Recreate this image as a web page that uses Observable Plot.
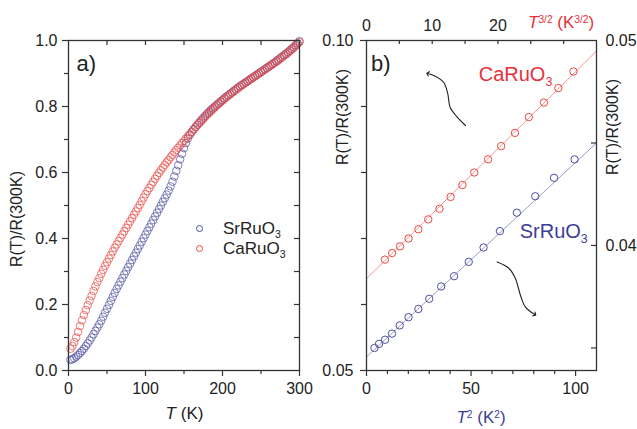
<!DOCTYPE html>
<html><head><meta charset="utf-8">
<script src="https://cdn.jsdelivr.net/npm/d3@7"></script>
<script src="https://cdn.jsdelivr.net/npm/@observablehq/plot@0.6"></script>
<style>
body{margin:0;background:#fff;}
#wrap{position:relative;width:637px;height:429px;overflow:hidden;font-family:"Liberation Sans",Arial,sans-serif;color:#222;background:#fff;}
#wrap svg{position:absolute;left:0;top:0;}
.lbl{position:absolute;white-space:nowrap;line-height:1;}
.sub{position:relative;top:0.38em;font-size:0.62em;line-height:0;}
.sup{position:relative;top:-0.5em;font-size:0.6em;line-height:0;}
.lc{position:absolute;width:5px;height:5px;border:1px solid;border-radius:50%;}
</style></head><body><div id="wrap"></div>
<script>
// ---------- Panel a: R(T)/R(300K) vs T ----------
const tempK = [
  2.5,5,7.5,10,12.5,15,17.5,20,22.5,25,
  27.5,30,32.5,35,37.5,40,42.5,45,47.5,50,
  52.5,55,57.5,60,62.5,65,67.5,70,72.5,75,
  77.5,80,82.5,85,87.5,90,92.5,95,97.5,100,
  102.5,105,107.5,110,112.5,115,117.5,120,122.5,125,
  127.5,130,132.5,135,137.5,140,142.5,145,147.5,150,
  152.5,155,157.5,160,162.5,165,167.5,170,172.5,175,
  177.5,180,182.5,185,187.5,190,192.5,195,197.5,200,
  202.5,205,207.5,210,212.5,215,217.5,220,222.5,225,
  227.5,230,232.5,235,237.5,240,242.5,245,247.5,250,
  252.5,255,257.5,260,262.5,265,267.5,270,272.5,275,
  277.5,280,282.5,285,287.5,290,292.5,295,297.5,300];
const srRatio = [
  0.032,0.034,0.037,0.042,0.047,0.053,0.059,0.066,0.074,0.082,
  0.091,0.100,0.110,0.120,0.130,0.140,0.151,0.163,0.175,0.187,
  0.199,0.211,0.223,0.235,0.247,0.258,0.269,0.280,0.291,0.302,
  0.313,0.324,0.335,0.346,0.357,0.368,0.379,0.390,0.401,0.412,
  0.423,0.434,0.445,0.456,0.467,0.478,0.489,0.500,0.511,0.522,
  0.533,0.545,0.558,0.572,0.588,0.605,0.622,0.640,0.657,0.674,
  0.689,0.703,0.714,0.723,0.731,0.738,0.745,0.752,0.759,0.766,
  0.772,0.778,0.784,0.790,0.795,0.800,0.805,0.810,0.815,0.820,
  0.825,0.830,0.834,0.839,0.843,0.848,0.852,0.857,0.861,0.865,
  0.869,0.873,0.877,0.881,0.885,0.889,0.893,0.897,0.901,0.905,
  0.909,0.913,0.917,0.921,0.925,0.929,0.933,0.938,0.942,0.947,
  0.951,0.956,0.960,0.965,0.970,0.975,0.980,0.986,0.992,0.998];
const caRatio = [
  0.066,0.074,0.086,0.100,0.117,0.135,0.152,0.168,0.183,0.198,
  0.212,0.226,0.241,0.255,0.268,0.280,0.293,0.305,0.317,0.328,
  0.339,0.350,0.361,0.372,0.382,0.392,0.402,0.412,0.422,0.432,
  0.442,0.452,0.462,0.472,0.482,0.492,0.502,0.513,0.524,0.534,
  0.544,0.553,0.563,0.572,0.581,0.590,0.599,0.607,0.615,0.623,
  0.631,0.638,0.646,0.653,0.661,0.668,0.675,0.682,0.689,0.696,
  0.703,0.710,0.716,0.723,0.730,0.737,0.744,0.750,0.756,0.762,
  0.769,0.775,0.780,0.786,0.792,0.797,0.803,0.808,0.813,0.818,
  0.823,0.828,0.833,0.837,0.842,0.846,0.851,0.855,0.860,0.864,
  0.868,0.872,0.876,0.880,0.884,0.888,0.892,0.896,0.900,0.904,
  0.908,0.912,0.916,0.920,0.924,0.928,0.932,0.936,0.940,0.945,
  0.950,0.954,0.958,0.963,0.968,0.973,0.978,0.984,0.990,0.995];
const aXTicks = [0,100,200,300];
const aXMinor = [50,150,250];
const aYTicks = [0,0.2,0.4,0.6,0.8,1.0];
const aYMinor = [0.1,0.3,0.5,0.7,0.9];

// ---------- Panel b: low-T fits ----------
// CaRuO3 vs T^{3/2} (top axis), left axis
const caT32 = [2.8,3.9,5.1,6.4,7.9,9.4,11.1,12.8,14.6,16.4,18.5,20.5,22.6,24.7,27.0,29.2,31.5];
const caLow = [0.0668,0.0678,0.0688,0.0700,0.0714,0.0729,0.0745,0.0763,0.0781,0.0800,0.0820,0.0840,0.0860,0.0884,0.0906,0.0928,0.0953];
const caFitX = [0,35];
const caFitY = [0.0639,0.0984];
// SrRuO3 vs T^2 (bottom axis), right axis
const srT2 = [3.8,6.0,8.9,12.2,15.9,20.1,24.8,30.0,35.7,41.9,48.9,56.0,63.8,71.9,80.7,89.7,99.5];
const srLow = [0.0350,0.0352,0.0354,0.0357,0.0361,0.0365,0.0369,0.0374,0.0380,0.0385,0.0392,0.0399,0.0407,0.0416,0.0424,0.0433,0.0442];
const srFitX = [0,110];
const srFitY = [0.03456,0.0450];
const bTopTicks = [0,10,20];
const bTopMinor = [5,10,15,20,25,30];
const bBotTicks = [0,50,100];
const bBotMinor = [10,20,30,40,60,70,80,90];
const bLeftTicks = [0.05,0.10];
const bLeftMinor = [0.06,0.07,0.08,0.09];
const bRightTicks = [0.04,0.05];
const bRightMinor = [0.035,0.04,0.045];
// annotation arrows (data coordinates of their own panel)
const caArrowX = [15.07,13.74,12.72,12.37,11.76,10.55,9.33];
const caArrowY = [0.08712,0.08848,0.08989,0.09192,0.09364,0.09455,0.09500];
const srArrowX = [62.46,68.06,71.26,73.65,76.04,80.49];
const srArrowY = [0.03919,0.03889,0.03838,0.03756,0.03699,0.03663];

const RED = "#ea4a44", BLUE = "#4f4f9f", REDTXT = "#e8303a", BLUETXT = "#3d3d98";
const RED_LINE = "#f39a96", BLUE_LINE = "#9c9cca";
const AX = "#333";
const W = 637, H = 429;
const FONT = '"Liberation Sans", Arial, sans-serif';
const STYLE = `font-family:${FONT};font-size:16px;color:#222;background:transparent;overflow:visible;`;
const wrap = document.getElementById("wrap");
const zip = (xs, ys) => xs.map((x, i) => ({x, y: ys[i]}));

function mount(svg){svg.style.position="absolute";svg.style.left="0px";svg.style.top="0px";svg.style.background="transparent";svg.style.maxWidth="none";wrap.appendChild(svg);}

const tickOpts = {stroke: AX, strokeWidth: 1.2};
const outBottom = (v, len, ih) => Plot.tickX(v, {x: d => d, insetTop: ih, insetBottom: -len, ...tickOpts});
const inTop = (v, len, ih) => Plot.tickX(v, {x: d => d, insetBottom: ih - len, ...tickOpts});
const outLeft = (v, len, iw) => Plot.tickY(v, {y: d => d, insetRight: iw, insetLeft: -len, ...tickOpts});
const inRight = (v, len, iw) => Plot.tickY(v, {y: d => d, insetLeft: iw - len, ...tickOpts});

// Panel a
const mA = {marginLeft: 68, marginRight: 338, marginTop: 40, marginBottom: 59};
const iwA = W - 68 - 338, ihA = H - 40 - 59;
const srAll = zip(tempK, srRatio), caAll = zip(tempK, caRatio);
mount(Plot.plot({
  width: W, height: H, ...mA, style: STYLE,
  x: {domain: [0, 300]}, y: {domain: [0, 1]},
  marks: [
    Plot.dot(srAll, {x: "x", y: "y", r: 3.8, stroke: BLUE, strokeWidth: 0.8, strokeOpacity: 0.9}),
    Plot.dot(caAll, {x: "x", y: "y", r: 3.8, stroke: RED, strokeWidth: 0.8, strokeOpacity: 0.9}),
    outBottom(aXTicks, 6, ihA), outBottom(aXMinor, 4, ihA),
    inTop(aXMinor.concat([100, 200]), 5, ihA),
    outLeft(aYTicks, 6, iwA), outLeft(aYMinor, 4, iwA),
    inRight(aYMinor.concat([0.2, 0.4, 0.6, 0.8]), 5, iwA),
    Plot.axisX({ticks: aXTicks, tickSize: 0, tickPadding: 12, fontSize: 16, label: null}),
    Plot.axisY({ticks: aYTicks, tickSize: 0, tickPadding: 11, tickFormat: ".1f", fontSize: 16, label: null}),
    Plot.frame({stroke: AX, strokeWidth: 1.3})
  ]
}));

// Panel b
const mB = {marginLeft: 366, marginRight: 41, marginTop: 40, marginBottom: 59};
const iwB = W - 366 - 41, ihB = H - 40 - 59;
// CaRuO3 layer: top axis T^{3/2}, left axis
mount(Plot.plot({
  width: W, height: H, ...mB, style: STYLE,
  x: {domain: [0, 35]}, y: {domain: [0.05, 0.10]},
  marks: [
    Plot.line(zip(caFitX, caFitY), {x: "x", y: "y", stroke: RED_LINE, strokeWidth: 1}),
    Plot.dot(zip(caT32, caLow), {x: "x", y: "y", r: 3.7, stroke: RED, strokeWidth: 1}),
    Plot.line(zip(caArrowX, caArrowY), {x: "x", y: "y", curve: "catmull-rom", stroke: "#222", strokeWidth: 1.1, markerEnd: "arrow"}),
    inTop(bTopMinor, 4, ihB),
    outLeft(bLeftTicks, 6, iwB), outLeft(bLeftMinor, 5, iwB),
    Plot.axisX({anchor: "top", ticks: bTopTicks, tickSize: 0, tickPadding: 10, fontSize: 16, label: null}),
    Plot.axisY({ticks: bLeftTicks, tickSize: 0, tickPadding: 13, tickFormat: ".2f", fontSize: 16, label: null})
  ]
}));
// SrRuO3 layer: bottom axis T^2, right axis
mount(Plot.plot({
  width: W, height: H, ...mB, style: STYLE,
  x: {domain: [0, 110]}, y: {domain: [0.0339, 0.05]},
  marks: [
    Plot.line(zip(srFitX, srFitY), {x: "x", y: "y", stroke: BLUE_LINE, strokeWidth: 1}),
    Plot.dot(zip(srT2, srLow), {x: "x", y: "y", r: 3.7, stroke: BLUE, strokeWidth: 1}),
    Plot.line(zip(srArrowX, srArrowY), {x: "x", y: "y", curve: "catmull-rom", stroke: "#222", strokeWidth: 1.1, markerEnd: "arrow"}),
    outBottom(bBotTicks, 6, ihB), outBottom(bBotMinor, 4, ihB),
    inRight(bRightMinor, 5, iwB),
    Plot.axisX({ticks: bBotTicks, tickSize: 0, tickPadding: 12, fontSize: 16, label: null}),
    Plot.axisY({anchor: "right", ticks: bRightTicks, tickSize: 0, tickPadding: 9, tickFormat: ".2f", fontSize: 16, label: null}),
    Plot.frame({stroke: AX, strokeWidth: 1.3})
  ]
}));

// ---------- Text labels ----------
function label(html, {left, baseline, fs, color = "#222", center = false}) {
  const d = document.createElement("div");
  d.className = "lbl";
  d.innerHTML = html;
  d.style.fontSize = fs + "px";
  d.style.color = color;
  d.style.left = left + "px";
  d.style.top = (baseline - 0.8465 * fs) + "px";
  if (center) d.style.transform = "translateX(-50%)";
  wrap.appendChild(d);
  return d;
}
function vlabel(text, cx, cy, fs) {
  const d = document.createElement("div");
  d.className = "lbl";
  d.textContent = text;
  d.style.fontSize = fs + "px";
  d.style.left = cx + "px";
  d.style.top = cy + "px";
  d.style.transform = "translate(-50%,-50%) rotate(-90deg)";
  wrap.appendChild(d);
}
label("a)", {left: 76.5, baseline: 72, fs: 22});
label("b)", {left: 371, baseline: 72, fs: 22});
vlabel("R(T)/R(300K)", 16.5, 219, 16);
vlabel("R(T)/R(300K)", 343, 116.5, 16);
vlabel("R(T)/R(300K)", 613, 126.5, 16);
label("<i>T</i> (K)", {left: 184.5, baseline: 419.5, fs: 17, center: true});
label('<i>T</i><span class="sup">2</span> (K<span class="sup">2</span>)', {left: 481, baseline: 423, fs: 17, center: true, color: BLUETXT});
label('<i>T</i><span class="sup">3/2</span> (K<span class="sup">3/2</span>)', {left: 528, baseline: 28, fs: 17, color: REDTXT});
label('CaRuO<span class="sub">3</span>', {left: 478.7, baseline: 81, fs: 20, color: REDTXT});
label('SrRuO<span class="sub">3</span>', {left: 519.7, baseline: 238, fs: 20, color: BLUETXT});
// legend of panel a
label('SrRuO<span class="sub">3</span>', {left: 223, baseline: 234.5, fs: 17});
label('CaRuO<span class="sub">3</span>', {left: 223, baseline: 254.5, fs: 17});
for (const [cy, col] of [[228.3, BLUE], [248.3, RED]]) {
  const c = document.createElement("span");
  c.className = "lc";
  c.style.left = (199 - 3.5) + "px";
  c.style.top = (cy - 3.5) + "px";
  c.style.borderColor = col;
  wrap.appendChild(c);
}
</script></body></html>
